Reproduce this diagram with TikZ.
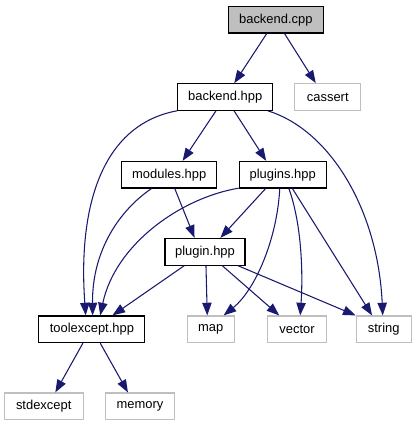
\documentclass[tikz,border=0pt]{standalone}
\usepackage{fontspec}
\setmainfont{Liberation Sans}
\usetikzlibrary{arrows.meta}

\definecolor{edgeblue}{RGB}{25,25,112}
\definecolor{sysgray}{RGB}{191,191,191}

\tikzset{every picture/.style={line width=0.75pt}}
\tikzset{
	file/.style={draw=black, line width=0.8pt, inner sep=0pt, minimum height=20pt, font=\fontsize{9.7}{11}\selectfont},
	sysfile/.style={file, draw=sysgray},
	inc/.style={draw=edgeblue, line width=0.8pt, -{Triangle[length=9.5pt,width=7pt]}}
}

\begin{document}
\begin{tikzpicture}[x=0.75pt,y=0.75pt,yscale=-1,xscale=1]
				\path[use as bounding box] (0,0) rectangle (416,427);
				
				% Text Node
				\node [file, fill=sysgray, minimum width=71.25pt] (bcpp) at (275.8,19.7) {backend.cpp};
				% Text Node
				\node [file, minimum width=71.25pt] (bhpp) at (225.2,97) {backend.hpp};
				% Text Node
				\node [sysfile, minimum width=49.5pt] (cassert) at (327.8,97) {cassert};
				% Text Node
				\node [file, minimum width=71.25pt] (modules) at (169.2,174.7) {modules.hpp};
				% Text Node
				\node [file, minimum width=65.25pt] (plugins) at (282.7,174.7) {plugins.hpp};
				% Text Node
				\node [file, minimum width=60pt] (plugin) at (205,251.7) {plugin.hpp};
				% Text Node
				\node [file, minimum width=79.5pt] (toolexcept) at (91.9,329.3) {toolexcept.hpp};
				% Text Node
				\node [sysfile, minimum width=35.25pt] (map) at (210.7,329.3) {map};
				% Text Node
				\node [sysfile, minimum width=44.25pt] (vector) at (297,329.3) {vector};
				% Text Node
				\node [sysfile, minimum width=41.25pt] (string) at (383.7,329.3) {string};
				% Text Node
				\node [sysfile, minimum width=59.25pt] (stdexcept) at (43.7,406.3) {stdexcept};
				% Text Node
				\node [sysfile, minimum width=51.75pt] (memory) at (140,406.3) {memory};
				
				%Straight Lines
				\draw [inc] (bcpp) -- (bhpp);
				%Straight Lines
				\draw [inc] (bcpp) -- (cassert.131);
				%Straight Lines
				\draw [inc] (bhpp) -- (modules.46);
				%Straight Lines
				\draw [inc] (bhpp) -- (plugins.140);
				%Curve Lines
				\draw [inc] (bhpp.196) .. controls (100,125) and (78,210) .. (toolexcept.114);
				%Curve Lines
				\draw [inc] (bhpp.342) .. controls (330,130) and (378,210) .. (string.94);
				%Straight Lines
				\draw [inc] (modules) -- (plugin.127);
				%Curve Lines
				\draw [inc] (modules.218) .. controls (120,210) and (92,250) .. (toolexcept.87);
				%Straight Lines
				\draw [inc] (plugins.219) -- (plugin.42);
				%Curve Lines
				\draw [inc] (plugins.197) .. controls (180,198) and (115,245) .. (toolexcept.59);
				%Curve Lines
				\draw [inc] (plugins.258) .. controls (277,240) and (255,290) .. (map.47);
				%Curve Lines
				\draw [inc] (plugins.294) .. controls (302,225) and (303,275) .. (vector.77);
				%Straight Lines
				\draw [inc] (plugins.305) -- (string.130);
				%Straight Lines
				\draw [inc] (plugin.214) -- (toolexcept.34);
				%Straight Lines
				\draw [inc] (plugin.274) -- (map.104);
				%Straight Lines
				\draw [inc] (plugin.321) -- (vector.142);
				%Straight Lines
				\draw [inc] (plugin.337) -- (string.north west);
				%Straight Lines
				\draw [inc] (toolexcept.237) -- (stdexcept.50);
				%Straight Lines
				\draw [inc] (toolexcept.301) -- (memory.131);
				
			\end{tikzpicture}
\end{document}
